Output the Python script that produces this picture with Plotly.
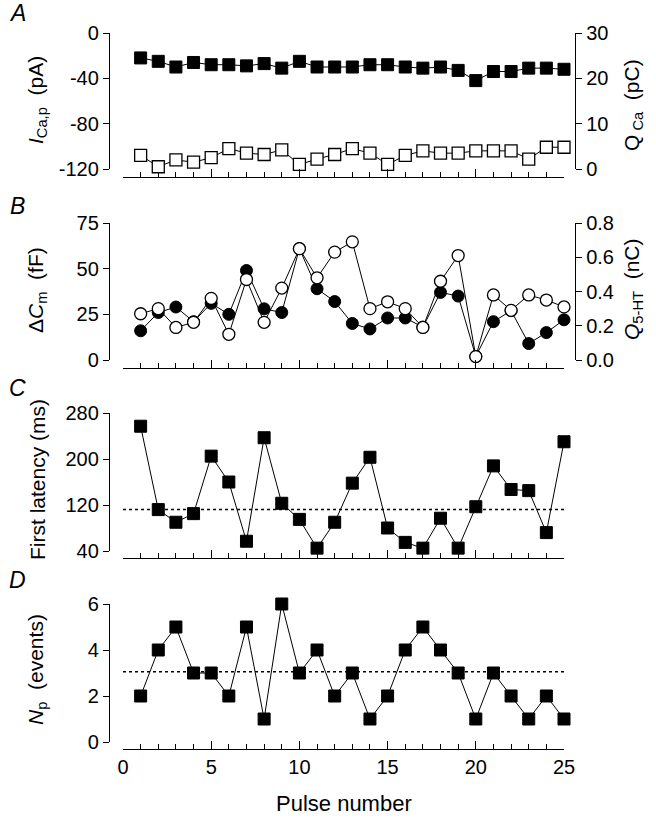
import plotly.graph_objects as go

# ---------------- data ----------------
pulse = list(range(1, 26))

# Panel A
i_ca_peak = [-22, -25, -30, -26, -28, -28, -29, -27, -31, -25, -30, -30, -30,
             -28, -28, -30, -31, -30, -33, -42, -34, -34, -31, -31, -32]   # pA
q_ca = [3.0, 0.5, 2.0, 1.5, 2.5, 4.5, 3.5, 3.2, 4.2, 1.0, 2.2, 3.2, 4.5,
        3.5, 1.0, 3.0, 4.0, 3.5, 3.5, 4.0, 4.0, 4.0, 2.2, 4.8, 4.8]        # pC

# Panel B
delta_cm = [16, 26, 29, 21, 31, 25, 49, 28, 26, 61, 39, 32, 20, 17, 23, 23,
            18, 37, 35, 2, 21, 27, 9, 15, 22]                                # fF
q_5ht = [0.27, 0.30, 0.19, 0.22, 0.36, 0.15, 0.47, 0.22, 0.42, 0.65, 0.48,
         0.63, 0.69, 0.30, 0.34, 0.30, 0.19, 0.46, 0.61, 0.02, 0.38, 0.29,
         0.38, 0.35, 0.31]                                                   # nC

# Panel C
first_latency = [257, 112, 90, 105, 205, 160, 57, 237, 123, 95, 45, 90, 158,
                 203, 80, 55, 45, 97, 45, 117, 188, 147, 145, 72, 230]      # ms
latency_ref = 112

# Panel D
n_events = [2, 4, 5, 3, 3, 2, 5, 1, 6, 3, 4, 2, 3, 1, 2, 4, 5, 4, 3, 1, 3, 2,
            1, 2, 1]
events_ref = 3.05

ref_span = [0, 25]

yA_ticks = [0, -40, -80, -120]
yA_ticktext = ["0", "-40", "-80", "-120"]
yA2_ticks = [0, 10, 20, 30]
yB_ticks = [0, 25, 50, 75]
yB2_ticks = [0.0, 0.2, 0.4, 0.6, 0.8]
yC_ticks = [40, 120, 200, 280]
yD_ticks = [0, 2, 4, 6]
x_ticks = [0, 5, 10, 15, 20, 25]

# ---------------- layout helpers ----------------
W, H = 656, 821
FONT = "Liberation Sans, Arial, Helvetica, sans-serif"
TICKFONT = dict(family=FONT, size=20, color="black")


def px_x(p):
    return p / W


def px_y(p):
    return 1 - p / H


X0, X1 = 123, 564
YL, YR = 109, 575
panels = [  # (top px, bottom px, x-axis px)
    (33, 169, 177),
    (223, 360, 368),
    (413, 551, 558),
    (604, 742, 749),
]

fig = go.Figure()

line_kw = dict(color="black", width=1)
sq_fill = dict(symbol="square", size=12, color="black",
               line=dict(color="black", width=1))
sq_open = dict(symbol="square", size=12, color="white",
               line=dict(color="black", width=1.3))
ci_fill = dict(symbol="circle", size=12, color="black",
               line=dict(color="black", width=1))
ci_open = dict(symbol="circle", size=12, color="white",
               line=dict(color="black", width=1.3))

# A
fig.add_trace(go.Scatter(x=pulse, y=q_ca, mode="lines+markers", line=line_kw,
                         marker=sq_open, xaxis="x", yaxis="y5", cliponaxis=False))
fig.add_trace(go.Scatter(x=pulse, y=i_ca_peak, mode="lines+markers", line=line_kw,
                         marker=sq_fill, xaxis="x", yaxis="y", cliponaxis=False))
# B
fig.add_trace(go.Scatter(x=pulse, y=q_5ht, mode="lines+markers", line=line_kw,
                         marker=ci_open, xaxis="x2", yaxis="y6", cliponaxis=False))
fig.add_trace(go.Scatter(x=pulse, y=delta_cm, mode="lines+markers", line=line_kw,
                         marker=ci_fill, xaxis="x2", yaxis="y2", cliponaxis=False))
# C
fig.add_trace(go.Scatter(x=ref_span, y=[latency_ref, latency_ref], mode="lines",
                         line=dict(color="black", width=1.5, dash="dot"),
                         xaxis="x3", yaxis="y3"))
fig.add_trace(go.Scatter(x=pulse, y=first_latency, mode="lines+markers", line=line_kw,
                         marker=sq_fill, xaxis="x3", yaxis="y3", cliponaxis=False))
# D
fig.add_trace(go.Scatter(x=ref_span, y=[events_ref, events_ref], mode="lines",
                         line=dict(color="black", width=1.5, dash="dot"),
                         xaxis="x4", yaxis="y4"))
fig.add_trace(go.Scatter(x=pulse, y=n_events, mode="lines+markers", line=line_kw,
                         marker=sq_fill, xaxis="x4", yaxis="y4", cliponaxis=False))

layout = dict(
    width=W, height=H, showlegend=False, autosize=False,
    margin=dict(l=0, r=0, t=0, b=0, pad=0),
    paper_bgcolor="white", plot_bgcolor="white",
    font=dict(family=FONT, size=20, color="black"),
)

y_left = [
    dict(range=[-120, 0], tickvals=yA_ticks, ticktext=yA_ticktext),
    dict(range=[0, 75], tickvals=yB_ticks),
    dict(range=[40, 280], tickvals=yC_ticks),
    dict(range=[0, 6], tickvals=yD_ticks),
]

for i, (top, bot, xa) in enumerate(panels):
    n = "" if i == 0 else str(i + 1)
    layout["xaxis" + n] = dict(
        domain=[px_x(X0), px_x(X1)], range=[0, 25], anchor="free",
        position=px_y(xa), showline=True, linecolor="black", linewidth=1.3,
        showgrid=False, zeroline=False, tickvals=x_ticks, ticks="inside",
        ticklen=8, tickwidth=1.3, tickcolor="black", automargin=False,
        minor=dict(dtick=1, tick0=0, ticks="inside", ticklen=5, tickwidth=1,
                   tickcolor="black", showgrid=False),
        showticklabels=(i == 3), tickfont=TICKFONT,
    )
    layout["yaxis" + n] = dict(
        domain=[px_y(bot), px_y(top)], anchor="free", position=px_x(YL),
        showline=True, linecolor="black", linewidth=1.3, showgrid=False,
        zeroline=False, ticks="outside", ticklen=6, tickwidth=1.3,
        tickcolor="black", tickfont=TICKFONT, automargin=False, **y_left[i],
    )

layout["yaxis5"] = dict(
    overlaying="y", side="right", anchor="free", position=px_x(YR),
    range=[0, 30], tickvals=yA2_ticks, showline=True, linecolor="black",
    linewidth=1.3, showgrid=False, zeroline=False, ticks="outside", ticklen=6,
    tickwidth=1.3, tickcolor="black", tickfont=TICKFONT, automargin=False,
)
layout["yaxis6"] = dict(
    overlaying="y2", side="right", anchor="free", position=px_x(YR),
    range=[0, 0.8], tickvals=yB2_ticks, tickformat=".1f", showline=True,
    linecolor="black", linewidth=1.3, showgrid=False, zeroline=False,
    ticks="outside", ticklen=6, tickwidth=1.3, tickcolor="black",
    tickfont=TICKFONT, automargin=False,
)

fig.update_layout(**layout)

# ---------------- text ----------------
ann = []
letters = ["A", "B", "C", "D"]
letter_y = [13, 206, 388, 580]
for L, ly in zip(letters, letter_y):
    ann.append(dict(text=f"<i>{L}</i>", x=px_x(17), y=px_y(ly), xref="paper",
                    yref="paper", xanchor="center", yanchor="middle",
                    showarrow=False, font=dict(size=23, family=FONT)))

left_titles = ["<i>I</i><sub>Ca,p</sub>  (pA)", "Δ<i>C</i><sub>m</sub>  (fF)",
               "First latency (ms)", "<i>N</i><sub>p</sub>  (events)"]
left_title_y = [100, 290, 480, 670]
for t, ty in zip(left_titles, left_title_y):
    ann.append(dict(text=t, x=px_x(37), y=px_y(ty), xref="paper",
                    yref="paper", xanchor="center", yanchor="middle",
                    showarrow=False, textangle=-90,
                    font=dict(size=21, family=FONT)))

right_titles = ["Q<sub> Ca</sub>  (pC)", "<i>Q</i><sub>5-HT</sub>  (nC)"]
right_title_y = [105, 290]
for t, ty in zip(right_titles, right_title_y):
    ann.append(dict(text=t, x=px_x(633), y=px_y(ty), xref="paper",
                    yref="paper", xanchor="center", yanchor="middle",
                    showarrow=False, textangle=-90,
                    font=dict(size=21, family=FONT)))

ann.append(dict(text="Pulse number", x=px_x((X0 + X1) / 2), y=px_y(803),
                xref="paper", yref="paper", xanchor="center", yanchor="middle",
                showarrow=False, font=dict(size=22, family=FONT)))

fig.update_layout(annotations=ann)

fig.write_html(
    "out.html",
    config={"responsive": False, "displayModeBar": False},
    post_script="document.body.style.margin='0';document.body.style.overflow='hidden';",
)
